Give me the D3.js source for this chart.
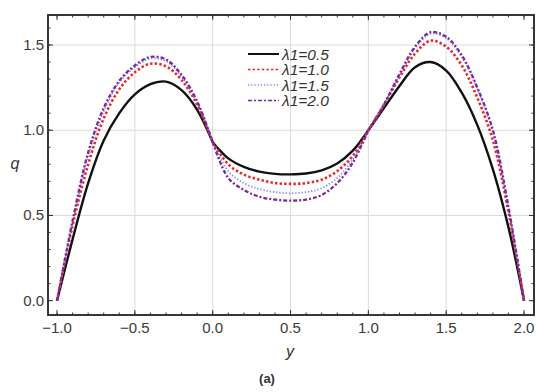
<!DOCTYPE html>
<html>
<head>
<meta charset="utf-8">
<script src="https://cdn.jsdelivr.net/npm/d3@7"></script>
<style>
  body { margin: 0; background: #fff; }
  text { font-family: "Liberation Sans", Arial, sans-serif; }
</style>
</head>
<body>
<div id="chart"></div>
<script>
// y positions (x axis of the plot)
var yValues = [-1.0, -0.9, -0.8, -0.7, -0.6, -0.5, -0.4, -0.3, -0.2, -0.1, 0.0,
    0.1, 0.2, 0.3, 0.4, 0.5, 0.6, 0.7, 0.8, 0.9, 1.0,
    1.1, 1.2, 1.3, 1.4, 1.5, 1.6, 1.7, 1.8, 1.9, 2.0];

// q for each lambda1
var q05 = [0, 0.36, 0.69, 0.94, 1.10, 1.21, 1.27, 1.285, 1.235, 1.12, 0.93,
    0.835, 0.785, 0.757, 0.744, 0.741, 0.746, 0.765, 0.805, 0.88, 1.0,
    1.13, 1.26, 1.37, 1.40, 1.35, 1.22, 1.03, 0.77, 0.43, 0];
var q10 = [0, 0.44, 0.80, 1.07, 1.24, 1.34, 1.39, 1.375, 1.295, 1.15, 0.93,
    0.80, 0.74, 0.71, 0.69, 0.685, 0.69, 0.71, 0.76, 0.85, 1.0,
    1.15, 1.31, 1.45, 1.525, 1.49, 1.38, 1.19, 0.94, 0.52, 0];
var q15 = [0, 0.46, 0.85, 1.11, 1.28, 1.37, 1.42, 1.405, 1.315, 1.16, 0.93,
    0.76, 0.69, 0.655, 0.637, 0.63, 0.637, 0.66, 0.72, 0.83, 1.0,
    1.15, 1.32, 1.48, 1.565, 1.54, 1.43, 1.24, 0.99, 0.54, 0];
var q20 = [0, 0.47, 0.87, 1.13, 1.29, 1.38, 1.43, 1.415, 1.325, 1.17, 0.93,
    0.72, 0.65, 0.61, 0.593, 0.587, 0.593, 0.62, 0.69, 0.81, 1.0,
    1.15, 1.33, 1.49, 1.575, 1.548, 1.44, 1.25, 1.0, 0.55, 0];

var labels = ["λ1=0.5", "λ1=1.0", "λ1=1.5", "λ1=2.0"];
var xTicks = [-1.0, -0.5, 0.0, 0.5, 1.0, 1.5, 2.0];
var yTicks = [0.0, 0.5, 1.0, 1.5];

var series = [
    { label: labels[0], values: q05, color: "#111", width: 2.4, dash: null },
    { label: labels[1], values: q10, color: "#e8262a", width: 2.6, dash: "2.4,2.2" },
    { label: labels[2], values: q15, color: "#7f7ff5", width: 1.8, dash: "1.2,2" },
    { label: labels[3], values: q20, color: "#7a2a96", width: 2.3, dash: "4,2,2,2" }
];

var width = 550, height = 392;
var svg = d3.select("#chart").append("svg")
    .attr("width", width)
    .attr("height", height);

var x = d3.scaleLinear().domain([-1.058, 2.064]).range([48, 534]);
var y = d3.scaleLinear().domain([-0.084, 1.676]).range([315, 15]);

// grid lines
svg.append("g").selectAll("line")
    .data([-0.5, 0, 0.5, 1.0, 1.5])
    .enter().append("line")
    .attr("x1", function (d) { return x(d); })
    .attr("x2", function (d) { return x(d); })
    .attr("y1", y.range()[0]).attr("y2", y.range()[1])
    .style("stroke", "#dcdcdc").style("stroke-width", 1);
svg.append("g").selectAll("line")
    .data([0.5, 1.0, 1.5])
    .enter().append("line")
    .attr("y1", function (d) { return y(d); })
    .attr("y2", function (d) { return y(d); })
    .attr("x1", x.range()[0]).attr("x2", x.range()[1])
    .style("stroke", "#dcdcdc").style("stroke-width", 1);

// curves, each segment drawn separately to keep the kinks at y=0 and y=1
var line = d3.line()
    .x(function (d) { return x(d[0]); })
    .y(function (d) { return y(d[1]); })
    .curve(d3.curveCatmullRom);

var segments = [[0, 11], [10, 21], [20, 31]];
series.forEach(function (s) {
    var pts = yValues.map(function (v, i) { return [v, s.values[i]]; });
    segments.forEach(function (seg) {
        svg.append("path")
            .datum(pts.slice(seg[0], seg[1]))
            .attr("d", line)
            .style("fill", "none")
            .style("stroke", s.color)
            .style("stroke-width", s.width)
            .style("stroke-dasharray", s.dash);
    });
});

// frame
svg.append("rect")
    .attr("x", 48).attr("y", 15)
    .attr("width", 534 - 48).attr("height", 315 - 15)
    .style("fill", "none").style("stroke", "#222").style("stroke-width", 1.8);

// axes with inward ticks
var xMinor = d3.range(-10, 21).map(function (i) { return i / 10; });
var yMinor = d3.range(0, 17).map(function (i) { return i / 10; });

function tickLines(g, vals, len, horizontal) {
    vals.forEach(function (v) {
        if (horizontal) {
            g.append("line").attr("x1", x(v)).attr("x2", x(v)).attr("y1", 315).attr("y2", 315 - len);
            g.append("line").attr("x1", x(v)).attr("x2", x(v)).attr("y1", 15).attr("y2", 15 + len);
        } else {
            g.append("line").attr("y1", y(v)).attr("y2", y(v)).attr("x1", 48).attr("x2", 48 + len);
            g.append("line").attr("y1", y(v)).attr("y2", y(v)).attr("x1", 534).attr("x2", 534 - len);
        }
    });
}
var tg = svg.append("g").style("stroke", "#333").style("stroke-width", 1);
tickLines(tg, xMinor, 2.5, true);
tickLines(tg, yMinor, 2.5, false);
tickLines(tg, xTicks, 5, true);
tickLines(tg, yTicks, 5, false);

var fmt = function (d) { return d3.format(".1f")(d).replace("-", "\u2212"); };

svg.append("g").selectAll("text")
    .data(xTicks)
    .enter().append("text")
    .attr("x", function (d) { return x(d); })
    .attr("y", 333)
    .attr("text-anchor", "middle")
    .style("font-size", "15px")
    .style("fill", "#3a3a3a")
    .text(fmt);

svg.append("g").selectAll("text")
    .data(yTicks)
    .enter().append("text")
    .attr("x", 44)
    .attr("y", function (d) { return y(d) + 5; })
    .attr("text-anchor", "end")
    .style("font-size", "15px")
    .style("fill", "#3a3a3a")
    .text(fmt);

// axis labels
svg.append("text")
    .attr("x", 290).attr("y", 357)
    .attr("text-anchor", "middle")
    .style("font-size", "16px").style("font-style", "italic").style("fill", "#333")
    .text("y");
svg.append("text")
    .attr("x", 15).attr("y", 169)
    .attr("text-anchor", "middle")
    .style("font-size", "16px").style("font-style", "italic").style("fill", "#333")
    .text("q");
svg.append("text")
    .attr("x", 267).attr("y", 383)
    .attr("text-anchor", "middle")
    .style("font-size", "13px").style("font-weight", "bold").style("fill", "#333")
    .text("(a)");

// legend
var legend = svg.append("g");
series.forEach(function (s, i) {
    var ly = 54 + i * 15.5;
    legend.append("line")
        .attr("x1", 248).attr("x2", 279)
        .attr("y1", ly).attr("y2", ly)
        .style("stroke", s.color)
        .style("stroke-width", i === 0 ? 2 : 1.5)
        .style("stroke-dasharray", s.dash);
    legend.append("text")
        .attr("x", 282).attr("y", ly + 5.5)
        .style("font-size", "15.5px").style("font-style", "italic").style("fill", "#333")
        .text(s.label);
});
</script>
</body>
</html>
